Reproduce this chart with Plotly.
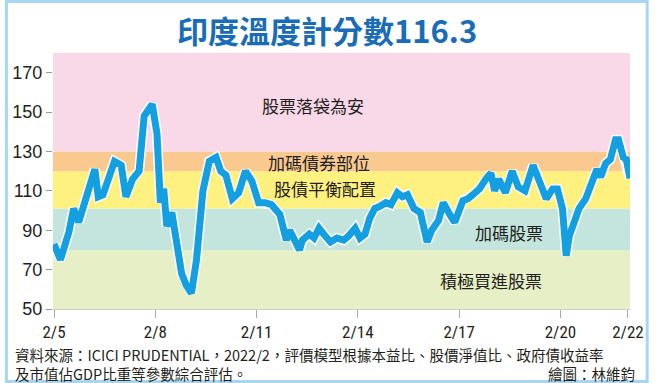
import plotly.graph_objects as go

# ---- data (decimal year, thermometer score) ----
years = [2005.00, 2005.19, 2005.44, 2005.58, 2005.73, 2005.92, 2006.21, 2006.31, 2006.45, 2006.79,
         2006.99, 2007.13, 2007.33, 2007.52, 2007.67, 2007.91, 2008.05, 2008.15, 2008.25, 2008.34,
         2008.49, 2008.78, 2008.92, 2009.07, 2009.22, 2009.41, 2009.60, 2009.80, 2009.94, 2010.09,
         2010.28, 2010.47, 2010.67, 2010.86, 2011.06, 2011.25, 2011.44, 2011.69, 2011.88, 2011.98,
         2012.12, 2012.27, 2012.36, 2012.56, 2012.70, 2012.85, 2012.99, 2013.19, 2013.38, 2013.58,
         2013.72, 2013.92, 2014.06, 2014.21, 2014.35, 2014.50, 2014.64, 2014.83, 2014.98, 2015.17,
         2015.32, 2015.47, 2015.66, 2015.85, 2016.05, 2016.19, 2016.39, 2016.53, 2016.72, 2016.87,
         2017.11, 2017.26, 2017.40, 2017.60, 2017.79, 2017.94, 2018.05, 2018.17, 2018.37, 2018.57,
         2018.75, 2018.95, 2019.19, 2019.39, 2019.58, 2019.77, 2019.91, 2020.06, 2020.17, 2020.26,
         2020.41, 2020.55, 2020.75, 2020.93, 2021.08, 2021.19, 2021.34, 2021.48, 2021.63, 2021.72,
         2021.86, 2021.95, 2022.06]
scores = [83, 75, 89, 101, 94, 104, 121, 107, 108, 125,
          123, 107, 116, 120, 148, 154, 139, 104, 111, 92,
          99, 68, 62, 58, 75, 110, 125, 127, 120, 118,
          106, 109, 120, 115, 104, 104, 103, 98, 85, 90,
          86, 80, 85, 88, 86, 91, 88, 84, 86, 85,
          87, 91, 86, 88, 96, 101, 102, 104, 103, 109,
          107, 108, 101, 99, 84, 90, 95, 104, 98, 94,
          105, 106, 108, 111, 116, 119, 110, 116, 109, 120,
          112, 110, 123, 113, 106, 111, 111, 101, 77, 87,
          94, 101, 106, 115, 121, 117, 124, 126, 136, 136,
          127, 126, 116.3]

tick_vals = [2005, 2008, 2011, 2014, 2017, 2020, 2022]
tick_text = ["2/5", "2/8", "2/11", "2/14", "2/17", "2/20", "2/22"]
y_ticks = [50, 70, 90, 110, 130, 150, 170]

band_edges = [50, 80, 101, 120, 130, 180]
band_colors = ["#e6efc6", "#c4e4de", "#fff17f", "#f9c98f", "#f9d9e7"]
band_labels = ["積極買進股票", "加碼股票", "股債平衡配置", "加碼債券部位", "股票落袋為安"]
label_x = [2017.95, 2018.48, 2013.03, 2012.86, 2012.66]
label_y = [64.5, 88.9, 111.2, 124.4, 153.4]

W, H = 656, 383
ML, MR, MT, MB = 49, 19, 53, 74

fig = go.Figure()
fig.add_trace(go.Scatter(x=years, y=scores, mode="lines",
                         line=dict(color="white", width=10), hoverinfo="skip", showlegend=False))
fig.add_trace(go.Scatter(x=years, y=scores, mode="lines",
                         line=dict(color="#139fe0", width=7), showlegend=False))

shapes = []
for i, c in enumerate(band_colors):
    shapes.append(dict(type="rect", xref="paper", yref="y", x0=0, x1=1,
                       y0=band_edges[i], y1=band_edges[i + 1], fillcolor=c,
                       line=dict(width=0), layer="below"))
# outer frame
pw, ph = W - ML - MR, H - MT - MB
shapes.append(dict(type="rect", xref="paper", yref="paper",
                   x0=(1.5 - ML) / pw, x1=(W - 1.5 - ML) / pw,
                   y0=-(MB - 1.5) / ph, y1=1 + (MT - 1.5) / ph,
                   line=dict(color="#a6d6f0", width=3), fillcolor="rgba(0,0,0,0)"))

annos = []
for t, x, y in zip(band_labels, label_x, label_y):
    annos.append(dict(x=x, y=y, xref="x", yref="y", text=t, showarrow=False,
                      font=dict(size=17, color="#231f20", family="Noto Sans CJK TC")))
annos.append(dict(x=(328 - ML) / pw, y=1 + (MT - 29) / ph, xref="paper", yref="paper",
                  xanchor="center", yanchor="middle",
                  text="<b>印度溫度計分數116.3</b>", showarrow=False,
                  font=dict(size=31, color="#1a6cb6", family="Noto Sans CJK TC")))
foot_font = dict(size=14.5, color="#231f20", family="Noto Sans CJK TC")
annos.append(dict(x=(9 - ML) / pw, y=-(354 - (H - MB)) / ph, xref="paper", yref="paper",
                  xanchor="left", yanchor="middle", showarrow=False, borderpad=0,
                  text="資料來源：ICICI PRUDENTIAL，2022/2，評價模型根據本益比、股價淨值比、政府債收益率",
                  font=foot_font))
annos.append(dict(x=(9 - ML) / pw, y=-(373.5 - (H - MB)) / ph, xref="paper", yref="paper",
                  xanchor="left", yanchor="middle", showarrow=False, borderpad=0,
                  text="及市值佔GDP比重等參數綜合評估。",
                  font=foot_font))
annos.append(dict(x=(643 - ML) / pw, y=-(373.5 - (H - MB)) / ph, xref="paper", yref="paper",
                  xanchor="right", yanchor="middle", showarrow=False, borderpad=0,
                  text="繪圖：林維鈞",
                  font=foot_font))

fig.update_layout(
    width=W, height=H, margin=dict(l=ML, r=MR, t=MT, b=MB),
    paper_bgcolor="white", plot_bgcolor="white",
    font=dict(family="Noto Sans CJK TC", color="#231f20"),
    shapes=shapes, annotations=annos, showlegend=False,
    xaxis=dict(range=[2004.97, 2022.06], tickvals=tick_vals, ticktext=tick_text,
               showgrid=False, zeroline=False, ticks="outside", ticklen=8,
               tickcolor="#aaaaaa", showline=True, linecolor="#cccccc",
               tickfont=dict(size=17, family="Roboto Condensed, Liberation Sans Narrow, Liberation Sans", color="#231f20")),
    yaxis=dict(range=[50, 180], tickvals=y_ticks, showgrid=False, zeroline=False,
               ticks="outside", ticklen=6, tickcolor="#999999",
               tickfont=dict(size=18, family="Liberation Sans", color="#231f20")),
)

fig.write_html("out.html", config={"displayModeBar": False},
               post_script="document.body.style.margin='0';document.body.style.padding='0';"
                           "document.documentElement.style.overflow='hidden';")
